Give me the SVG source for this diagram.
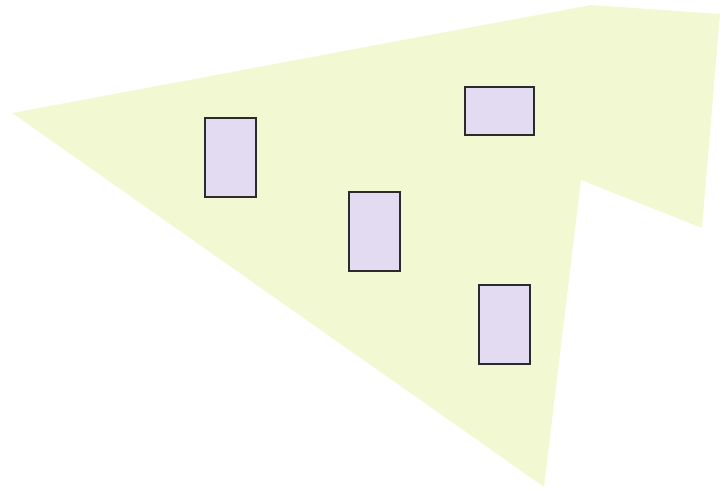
<svg xmlns="http://www.w3.org/2000/svg" width="726" height="491" viewBox="0 0 726 491">
<style>
.area{fill:#f2f8d2;stroke:none}
.room{fill:#e2dbf1;stroke:#2b2b2b;stroke-width:2}
</style>
<rect width="726" height="491" fill="#ffffff"/>
<polygon class="area" points="12,113 591,5 720,14 702,228 581,180 544,487"/>
<g id="room1"><rect class="room" x="205" y="118" width="51" height="79"/></g>
<g id="room2"><rect class="room" x="465" y="87" width="69" height="48"/></g>
<g id="room3"><rect class="room" x="349" y="192" width="51" height="79"/></g>
<g id="room4"><rect class="room" x="479" y="285" width="51" height="79"/></g>
<g id="connectors"></g>
</svg>
